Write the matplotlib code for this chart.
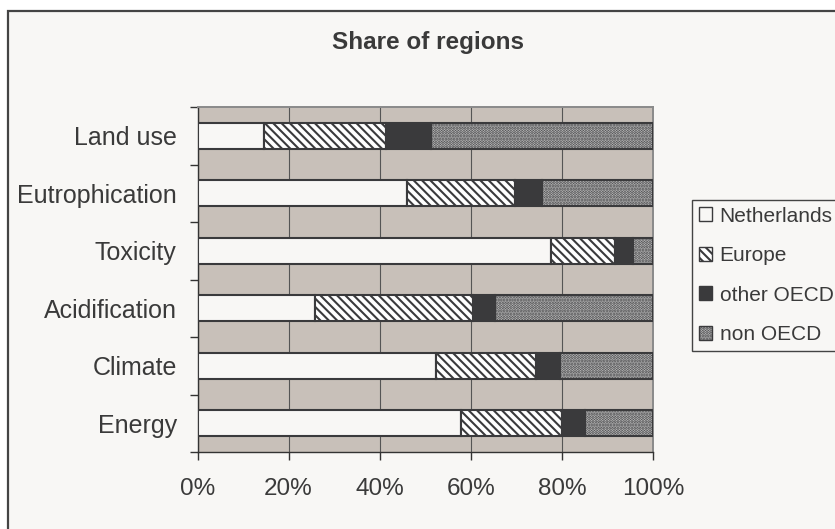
import matplotlib
matplotlib.use("Agg")
import matplotlib.pyplot as plt
from matplotlib.patches import Rectangle, Patch
from matplotlib.ticker import FixedLocator, FuncFormatter

# Share of each region in the environmental impact categories (%)
categories = ["Energy", "Climate", "Acidification", "Toxicity", "Eutrophication", "Land use"]
netherlands = [57.8, 52.4, 25.9, 77.6, 46.0, 14.5]
europe = [22.2, 21.9, 34.6, 14.1, 23.7, 26.9]
other_oecd = [5.1, 5.2, 4.9, 3.9, 5.9, 9.8]
non_oecd = [14.9, 20.5, 34.6, 4.4, 24.4, 48.8]
series_names = ["Netherlands", "Europe", "other OECD", "non OECD"]
x_ticks = [0, 20, 40, 60, 80, 100]

plt.rcParams["font.family"] = ["Liberation Sans", "DejaVu Sans"]
plt.rcParams["hatch.linewidth"] = 1.5

W, H, DPI = 835, 529, 100
fig = plt.figure(figsize=(W / DPI, H / DPI), dpi=DPI, facecolor="white")

text_col = "#3a3a3a"
edge_col = "#3a3a3c"
panel_bg = "#f8f7f5"

# chart frame
fig.patches.append(Rectangle((8 / W, -0.1), 1.2, 1.1 - 11 / H, transform=fig.transFigure,
                             facecolor=panel_bg, edgecolor="#444444", linewidth=1.6, zorder=-10))

ax = fig.add_axes([197.5 / W, 1 - 452 / H, (653 - 197.5) / W, (452 - 107) / H])
ax.set_zorder(1)
ax.set_facecolor("#c8c0b9")

styles = [
    dict(facecolor=panel_bg, hatch=None),
    dict(facecolor="white", hatch="\\\\\\\\"),
    dict(facecolor=edge_col, hatch=None),
    dict(facecolor="#d2d2d2", hatch="......"),
]

ypos = list(range(len(categories)))
left = [0.0] * len(categories)
for name, vals, st in zip(series_names, [netherlands, europe, other_oecd, non_oecd], styles):
    ax.barh(ypos, vals, left=left, height=0.45, facecolor=st["facecolor"],
            edgecolor=edge_col, linewidth=1.5, hatch=st["hatch"], zorder=3, label=name)
    left = [l + v for l, v in zip(left, vals)]

ax.set_xlim(0, 100)
ax.set_ylim(-0.5, len(categories) - 0.5)
ax.xaxis.set_major_locator(FixedLocator(x_ticks))
ax.xaxis.set_major_formatter(FuncFormatter(lambda v, p: f"{int(v)}%"))
ax.grid(axis="x", color="#555555", linewidth=0.8, zorder=1)
ax.set_axisbelow(True)

ax.set_yticks(ypos)
ax.set_yticklabels(categories)
ax.set_yticks([i - 0.5 for i in range(len(categories) + 1)], minor=True)
ax.tick_params(axis="y", which="major", length=0, pad=15, labelsize=18, labelcolor=text_col)
ax.tick_params(axis="y", which="minor", length=6, width=1, color="#333333", direction="out")
ax.tick_params(axis="x", which="major", length=6, width=1, color="#333333", pad=13,
               labelsize=17.5, labelcolor=text_col)

for s in ["left", "bottom"]:
    ax.spines[s].set_color("#333333")
    ax.spines[s].set_linewidth(1.0)
for s in ["top", "right"]:
    ax.spines[s].set_color("#8a8a8a")
    ax.spines[s].set_linewidth(1.4)

fig.text(428 / W, 1 - 42 / H, "Share of regions", ha="center", va="center",
         fontsize=17.5, fontweight="bold", color=text_col)

handles = [Patch(facecolor=st["facecolor"], edgecolor=edge_col, hatch=st["hatch"], linewidth=1.0)
           for st in styles]
leg = fig.legend(handles, series_names, loc="upper left",
                 bbox_to_anchor=(692 / W, 1 - 200 / H), bbox_transform=fig.transFigure,
                 borderaxespad=0, fontsize=15, frameon=True, fancybox=False,
                 edgecolor="#444444", facecolor=panel_bg, framealpha=1,
                 handlelength=0.65, handleheight=0.65, handletextpad=0.35,
                 labelspacing=0.98, borderpad=0.32)
leg.get_frame().set_linewidth(1.0)
for t in leg.get_texts():
    t.set_color(text_col)

fig.savefig("out.png", dpi=DPI, facecolor=fig.get_facecolor())
